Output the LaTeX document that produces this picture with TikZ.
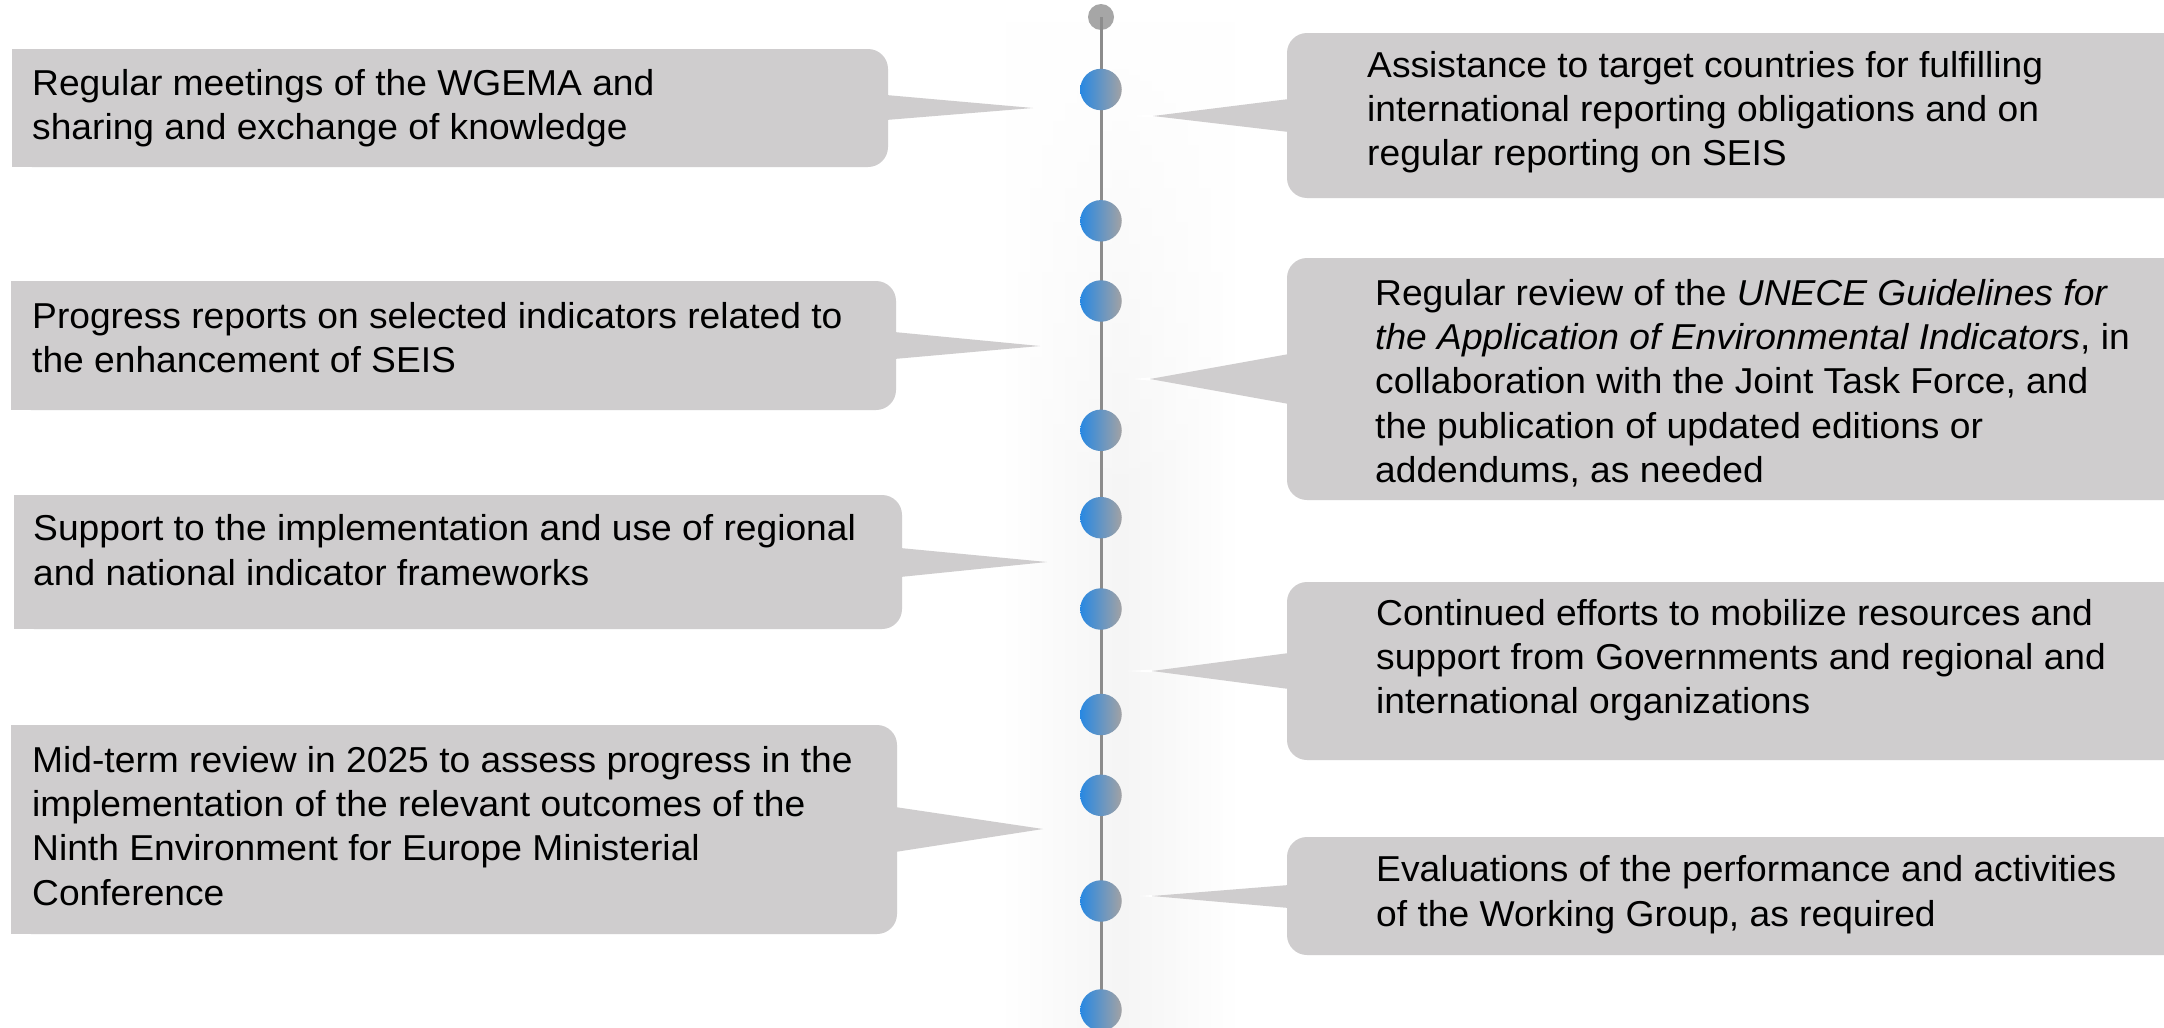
\documentclass[tikz,border=0pt]{standalone}
\usepackage{fontspec}
\setmainfont[FakeStretch=1.033]{Liberation Sans}
\usetikzlibrary{fadings}
\definecolor{boxfill}{RGB}{207,205,206}
\definecolor{dotblue}{RGB}{40,136,226}
\definecolor{dotgray}{RGB}{162,162,164}
\definecolor{linegray}{RGB}{140,140,140}
\definecolor{topgray}{RGB}{166,166,166}
\tikzfading[name=bandfade, top color=transparent!100, bottom color=transparent!0, middle color=transparent!0]
\tikzset{
  boxf/.style={fill=boxfill},
  txt/.style={anchor=north west, inner sep=0pt, align=left, font=\fontsize{36}{44.3}\selectfont},
  dotnode/.style={circle, inner sep=0pt, minimum size=41.5pt, left color=dotblue, right color=dotgray},
  topdot/.style={circle, inner sep=0pt, minimum size=26pt, fill=topgray},
  axisline/.style={draw=linegray, line width=3pt},
}
\begin{document}
\begin{tikzpicture}[x=1pt,y=-1pt]
\useasboundingbox (0,0) rectangle (2164,1028);
\fill[white] (0,0) rectangle (2164,1028);
% soft shadow band behind the axis
\shade[left color=white, right color=white, middle color=black!4, path fading=bandfade] (1000,20) rectangle (1240,1028);

% ---------- left callouts ----------
% L1
\fill[boxf, rounded corners=20pt] (12,49) rectangle (888,167);
\fill[boxf] (12,49) rectangle (860,167);
\fill[boxf] (886,95) -- (1033,108) -- (886,120) -- cycle;
% L2
\fill[boxf, rounded corners=20pt] (11,281) rectangle (896,410);
\fill[boxf] (11,281) rectangle (868,410);
\fill[boxf] (894,332) -- (1040,346) -- (894,359) -- cycle;
% L3
\fill[boxf, rounded corners=20pt] (14,495) rectangle (902,629);
\fill[boxf] (14,495) rectangle (874,629);
\fill[boxf] (900,548) -- (1047,562) -- (900,577) -- cycle;
% L4
\fill[boxf, rounded corners=20pt] (11,725) rectangle (897,934);
\fill[boxf] (11,725) rectangle (869,934);
\fill[boxf] (895,807) -- (1043,829) -- (895,852) -- cycle;

% ---------- right callouts ----------
% R1
\fill[boxf, rounded corners=20pt] (1287,33) rectangle (2200,198);
\fill[boxf] (1315,33) rectangle (2164,198);
\fill[boxf] (1289,99) -- (1153,116) -- (1289,132) -- cycle;
\fill[white] (1153,114.6) -- (1128,116) -- (1153,117.4) -- cycle;
% R2
\fill[boxf, rounded corners=20pt] (1287,258) rectangle (2200,500);
\fill[boxf] (1315,258) rectangle (2164,500);
\fill[boxf] (1289,354) -- (1150,379) -- (1289,404) -- cycle;
\fill[white] (1150,377.4) -- (1133,379) -- (1150,380.6) -- cycle;
% R3
\fill[boxf, rounded corners=20pt] (1287,582) rectangle (2200,760);
\fill[boxf] (1315,582) rectangle (2164,760);
\fill[boxf] (1289,653) -- (1152,671) -- (1289,689) -- cycle;
\fill[white] (1152,669.6) -- (1128,671) -- (1152,672.4) -- cycle;
% R4
\fill[boxf, rounded corners=20pt] (1287,837) rectangle (2200,955);
\fill[boxf] (1315,837) rectangle (2164,955);
\fill[boxf] (1289,885) -- (1152,896) -- (1289,908) -- cycle;
\fill[white] (1152,895) -- (1140,896) -- (1152,897) -- cycle;

% ---------- texts ----------
\node[txt] (tl1) at (32,64) {\strut Regular meetings of the WGEMA and\\sharing and exchange of knowledge};
\node[txt] (tl2) at (32,297) {\strut Progress reports on selected indicators related to\\the enhancement of SEIS};
\node[txt] (tl3) at (33,509.5) {\strut Support to the implementation and use of regional\\and national indicator frameworks};
\node[txt] (tl4) at (32,741) {\strut Mid-term review in 2025 to assess progress in the\\implementation of the relevant outcomes of the\\Ninth Environment for Europe Ministerial\\Conference};
\node[txt] (tr1) at (1367,46) {\strut Assistance to target countries for fulfilling\\international reporting obligations and on\\regular reporting on SEIS};
\node[txt] (tr2) at (1375,274) {\strut Regular review of the \textit{UNECE Guidelines for}\\\textit{the Application of Environmental Indicators}, in\\collaboration with the Joint Task Force, and\\the publication of updated editions or\\addendums, as needed};
\node[txt] (tr3) at (1376,594) {\strut Continued efforts to mobilize resources and\\support from Governments and regional and\\international organizations};
\node[txt] (tr4) at (1376,850.5) {\strut Evaluations of the performance and activities\\of the Working Group, as required};

% ---------- timeline ----------
\node[topdot] (d0) at (1101,17) {};
\coordinate (d1c) at (1101,89.5);
\coordinate (d2c) at (1101,220.8);
\coordinate (d3c) at (1101,301);
\coordinate (d4c) at (1101,430.3);
\coordinate (d5c) at (1101,517.7);
\coordinate (d6c) at (1101,609);
\coordinate (d7c) at (1101,714.5);
\coordinate (d8c) at (1101,795.3);
\coordinate (d9c) at (1101,901);
\coordinate (d10c) at (1101,1010);
\draw[axisline] (d0.center) -- (d10c);
\foreach \i in {1,...,10} {
  \node[dotnode] (d\i) at (d\i c) {};
}
\end{tikzpicture}
\end{document}
